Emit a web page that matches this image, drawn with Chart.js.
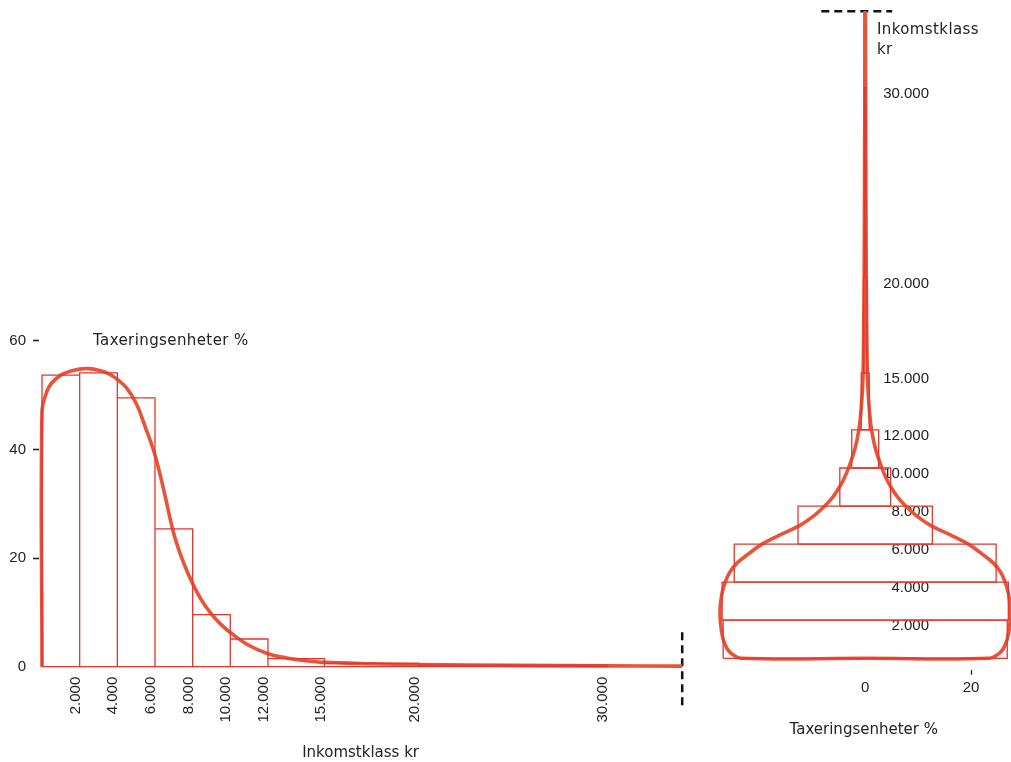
<!DOCTYPE html>
<html><head><meta charset="utf-8">
<script src="https://cdn.jsdelivr.net/npm/chart.js@4.4.1/dist/chart.umd.min.js"></script>
<style>
html,body{margin:0;padding:0;background:#fff;overflow:hidden;width:1011px;height:762px}
#wrap{position:relative;width:1011px;height:762px;overflow:hidden;background:#fff}
#left{position:absolute;left:0;top:0;width:700px;height:762px}
#right{position:absolute;left:700px;top:0;width:321px;height:762px}
.lbl{position:absolute;font-family:"DejaVu Sans";font-size:15px;color:#222;white-space:nowrap;line-height:20px;letter-spacing:0.4px}
</style></head><body>
<div id="wrap">
<div id="left"><canvas id="c1"></canvas></div>
<div id="right"><canvas id="c2"></canvas></div>
<div class="lbl" style="left:93px;top:330px">Taxeringsenheter %</div>
<div class="lbl" style="left:877px;top:19px">Inkomstklass<br>kr</div>
</div>
<script>
// ---- data ----
const classLow   = [0, 2000, 4000, 6000, 8000, 10000, 12000, 15000, 20000];
const classHigh  = [2000, 4000, 6000, 8000, 10000, 12000, 15000, 20000, 30000];
const classShare = [53.7, 54.1, 49.5, 25.4, 9.6, 5.1, 1.5, 0.6, 0.3];

const curveIncome = [0, 0, 250, 500, 1000, 1500, 2000, 2500, 3000, 3500, 4000, 4500, 5000, 5500, 6000, 6500, 7000, 7500, 8000, 8500, 9000, 9500, 10000, 11000, 12000, 13000, 14000, 15000, 17500, 20000, 25000, 30000, 34000];
const curveShare  = [0, 47, 50.6, 52.2, 53.7, 54.4, 54.8, 54.9, 54.6, 54.0, 52.9, 51.3, 48.5, 44.0, 39.0, 32.0, 24.5, 19.3, 15.3, 12.1, 9.7, 7.8, 6.3, 3.9, 2.4, 1.6, 1.1, 0.8, 0.55, 0.4, 0.25, 0.15, 0.1];

const incomeTicks      = [2000, 4000, 6000, 8000, 10000, 12000, 15000, 20000, 30000];
const incomeTickLabels = ['2.000', '4.000', '6.000', '8.000', '10.000', '12.000', '15.000', '20.000', '30.000'];
const shareTicks       = [0, 20, 40, 60];
const shareTickLabels  = ['0', '20', '40', '60'];
const pyramidTicks      = [0, 20];
const pyramidTickLabels = ['0', '20'];
const axisEnd = 34000;

// ---- styles ----
const RED = '#e2362f';
const CURVE = '#e8543a';
const INK = '#222';
const NUMFONT = {family: 'Liberation Sans', size: 15};
const TITLEFONT = {family: 'DejaVu Sans', size: 15};

// histogram outline in data space
const outline = [{x: classLow[0], y: 0}];
classLow.forEach((lo, i) => {
  outline.push({x: lo, y: classShare[i]}, {x: classHigh[i], y: classShare[i]}, {x: classHigh[i], y: 0});
});
outline.push({x: classLow[0], y: 0});

const curvePts = curveIncome.map((v, i) => ({x: v, y: curveShare[i]}));

const base = {responsive: true, maintainAspectRatio: false, animation: false, events: [],
  plugins: {legend: {display: false}, tooltip: {enabled: false}}};
const lineDs = (data, color, width, extra) => Object.assign({data, borderColor: color, borderWidth: width,
  pointRadius: 0, pointHoverRadius: 0, fill: false, tension: 0, clip: false}, extra || {});

new Chart(document.getElementById('c1'), {
  type: 'line',
  data: {datasets: [
    lineDs(outline, RED, 1.3),
    lineDs(curvePts, CURVE, 3.6, {tension: 0.4}),
    lineDs([{x: axisEnd, y: -7.1}, {x: axisEnd, y: 7.1}], '#111', 2.5, {borderDash: [8, 5]})
  ]},
  options: Object.assign({}, base, {
    layout: {padding: {top: 340.9, left: 0, right: 17.8, bottom: 0}},
    scales: {
      x: {type: 'linear', min: -160, max: axisEnd,
        afterBuildTicks: s => { s.ticks = incomeTicks.map(v => ({value: v})); },
        afterFit: s => { s.height = 95.3; },
        ticks: {autoSkip: false, maxRotation: 90, minRotation: 90, padding: 10, labelOffset: -4,
          font: NUMFONT, color: INK, callback: (v, i) => incomeTickLabels[i]},
        grid: {display: false, drawTicks: false}, border: {display: false},
        title: {display: true, text: 'Inkomstklass kr', font: TITLEFONT, color: INK, padding: {top: 0, bottom: 0}}
      },
      y: {type: 'linear', min: 0, max: 60,
        afterBuildTicks: s => { s.ticks = shareTicks.map(v => ({value: v})); },
        afterFit: s => { s.width = 39; },
        ticks: {padding: 7, font: NUMFONT, color: INK, callback: (v, i) => shareTickLabels[i]},
        grid: {drawOnChartArea: false, tickLength: 6, tickWidth: 1.6,
          tickColor: c => (c.tick && c.tick.value === 0) ? 'rgba(0,0,0,0)' : INK},
        border: {display: false}
      }
    }
  })
});

// mirrored (pyramid) view
const boxes = classLow.map((lo, i) => {
  const h = classShare[i] / 2;
  return lineDs([{x: -h, y: lo}, {x: -h, y: classHigh[i]}, {x: h, y: classHigh[i]}, {x: h, y: lo}, {x: -h, y: lo}], RED, 1.3);
});
const rightHalf = curveIncome.map((v, i) => ({x: curveShare[i] / 2, y: v}));
const leftHalf  = curveIncome.map((v, i) => ({x: -curveShare[i] / 2, y: v}));

new Chart(document.getElementById('c2'), {
  type: 'line',
  data: {datasets: boxes.concat([
    lineDs(rightHalf, CURVE, 3.6, {tension: 0.4}),
    lineDs(leftHalf, CURVE, 3.6, {tension: 0.4}),
    lineDs([{x: -8.3, y: axisEnd}, {x: 5.1, y: axisEnd}], '#111', 2.5, {borderDash: [8, 5]})
  ])},
  options: Object.assign({}, base, {
    layout: {padding: {top: 11.3, left: 6.5, right: 0, bottom: 0}},
    scales: {
      x: {type: 'linear', min: -30, max: 29.45,
        afterBuildTicks: s => { s.ticks = pyramidTicks.map(v => ({value: v})); },
        afterFit: s => { s.height = 92.3; },
        ticks: {padding: 4, font: NUMFONT, color: INK, callback: (v, i) => pyramidTickLabels[i]},
        grid: {drawOnChartArea: false, tickLength: 5, tickWidth: 1.3,
          tickColor: c => (c.tick && c.tick.value === 20) ? INK : 'rgba(0,0,0,0)'},
        border: {display: false},
        title: {display: true, text: 'Taxeringsenheter %', font: TITLEFONT, color: INK, padding: {top: 0, bottom: 23}}
      },
      y: {type: 'linear', min: -600, max: axisEnd, position: {x: 12.06},
        afterBuildTicks: s => { s.ticks = incomeTicks.map(v => ({value: v})); },
        ticks: {padding: 0, labelOffset: 6, font: NUMFONT, color: INK, callback: (v, i) => incomeTickLabels[i]},
        grid: {display: false}, border: {display: false}
      }
    }
  })
});
</script>
</body></html>
